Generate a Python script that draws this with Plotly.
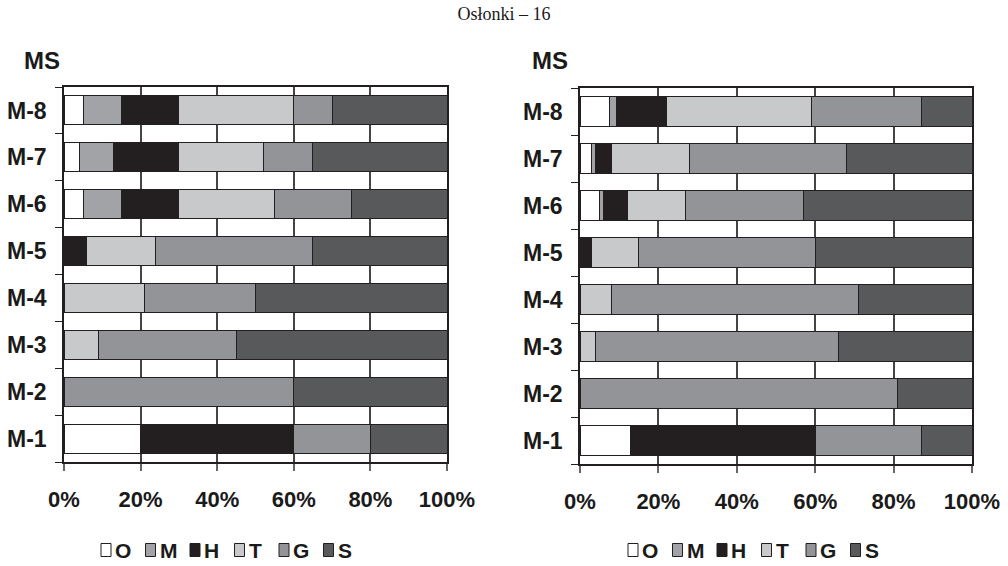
import plotly.graph_objects as go

# Sample rows, bottom to top
categories = ["M-1", "M-2", "M-3", "M-4", "M-5", "M-6", "M-7", "M-8"]
tick_vals = [0, 20, 40, 60, 80, 100]
tick_labels = ["0%", "20%", "40%", "60%", "80%", "100%"]
components = ["O", "M", "H", "T", "G", "S"]

# Left panel shares (%), per component, rows M-1..M-8
left_O = [20, 0, 0, 0, 0, 5, 4, 5]
left_M = [0, 0, 0, 0, 0, 10, 9, 10]
left_H = [40, 0, 0, 0, 6, 15, 17, 15]
left_T = [0, 0, 9, 21, 18, 25, 22, 30]
left_G = [20, 60, 36, 29, 41, 20, 13, 10]
left_S = [20, 40, 55, 50, 35, 25, 35, 30]

# Right panel shares (%)
right_O = [13, 0, 0, 0, 0, 5, 3, 7.5]
right_M = [0, 0, 0, 0, 0, 1, 1, 1.8]
right_H = [47, 0, 0, 0, 3, 6, 4, 12.7]
right_T = [0, 0, 4, 8, 12, 15, 20, 37]
right_G = [27, 81, 62, 63, 45, 30, 40, 28]
right_S = [13, 19, 34, 29, 40, 43, 32, 13]

colors = {"O": "#ffffff", "M": "#a2a3a6", "H": "#231f20",
          "T": "#c8c9cb", "G": "#939498", "S": "#58595b"}

left = dict(zip(components, [left_O, left_M, left_H, left_T, left_G, left_S]))
right = dict(zip(components, [right_O, right_M, right_H, right_T, right_G, right_S]))

FONT = "Liberation Sans, Arial, sans-serif"
INK = "#1a1a1a"
W, H = 1008, 566

fig = go.Figure()
for panel, xa, ya in [(left, "x", "y"), (right, "x2", "y2")]:
    for c in components:
        fig.add_trace(go.Bar(
            y=categories, x=panel[c], name=c, orientation="h",
            marker=dict(color=colors[c], line=dict(color="#231f20", width=1)),
            xaxis=xa, yaxis=ya, showlegend=False, hoverinfo="x+y+name",
        ))

xcommon = dict(range=[0, 100], tickmode="array", tickvals=tick_vals, ticktext=tick_labels,
               showgrid=True, gridcolor="#444444", gridwidth=1.5,
               showline=True, linecolor="#231f20", linewidth=1.5, mirror=True,
               ticks="outside", ticklen=7, tickcolor="#666666", tickwidth=1.5,
               ticklabelstandoff=10,
               tickfont=dict(family=FONT, size=22, color=INK, weight="bold"),
               zeroline=False, fixedrange=True, automargin=False)
ycommon = dict(type="category", categoryorder="array", categoryarray=categories,
               showline=True, linecolor="#231f20", linewidth=1.5, mirror=True,
               ticks="outside", ticklen=7, tickcolor="#231f20", tickson="boundaries",
               showgrid=False, ticklabelstandoff=11,
               tickfont=dict(family=FONT, size=23, color=INK, weight="bold"),
               fixedrange=True, automargin=False)

# Hand-built legend rows: small swatch followed by its letter
shapes, annotations = [], []
for x0 in (101, 628):
    for i, c in enumerate(components):
        sx = x0 + i * 44.5
        shapes.append(dict(type="rect", xref="paper", yref="paper",
                           x0=sx / W, x1=(sx + 10) / W,
                           y0=1 - 556.5 / H, y1=1 - 543.5 / H,
                           fillcolor=colors[c], line=dict(color="#231f20", width=1)))
        annotations.append(dict(text=c, x=(sx + 12) / W, y=1 - 550 / H,
                                xref="paper", yref="paper", xanchor="left",
                                yanchor="middle", showarrow=False,
                                font=dict(family=FONT, size=21, color=INK, weight="bold")))

for mx in (22, 530):
    annotations.append(dict(text="MS", x=mx / W, y=1 - 61 / H, xref="paper", yref="paper",
                            xanchor="left", yanchor="middle", showarrow=False,
                            font=dict(family=FONT, size=24, color=INK, weight="bold")))

fig.update_layout(
    width=W, height=H,
    margin=dict(l=0, r=0, t=0, b=0),
    paper_bgcolor="white", plot_bgcolor="white",
    barmode="stack", bargap=0.38,
    xaxis=dict(domain=[64 / W, 447 / W], anchor="y", **xcommon),
    yaxis=dict(domain=[1 - 462 / H, 1 - 87 / H], anchor="x", **ycommon),
    xaxis2=dict(domain=[580 / W, 972 / W], anchor="y2", **xcommon),
    yaxis2=dict(domain=[1 - 464 / H, 1 - 88 / H], anchor="x2", **ycommon),
    title=dict(text="Osłonki – 16", x=0.5, xanchor="center", y=1 - 14 / H,
               yanchor="middle",
               font=dict(family="Liberation Serif, Times New Roman, serif",
                         size=18, color=INK)),
    shapes=shapes,
    annotations=annotations,
)

fig.write_html("out.html")
